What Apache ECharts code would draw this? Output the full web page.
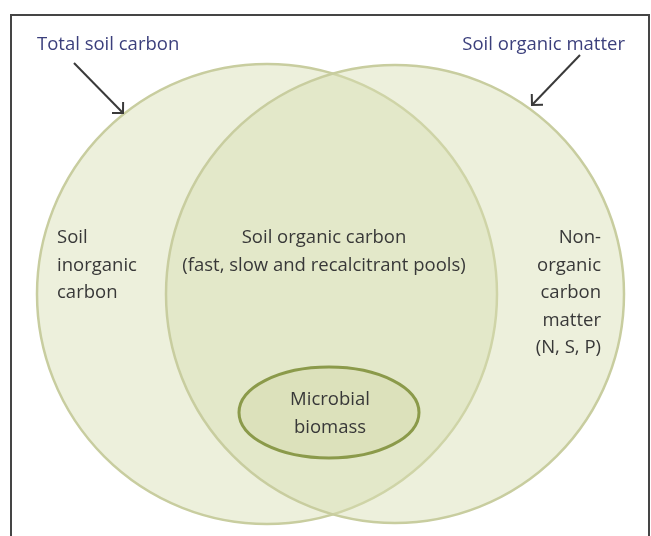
<!DOCTYPE html>
<html>
<head>
<meta charset="utf-8">
<script src="https://cdn.jsdelivr.net/npm/echarts@6/dist/echarts.min.js"></script>
<style>
  html, body { margin: 0; padding: 0; background: #fff; }
  #chart { width: 651px; height: 536px; }
</style>
</head>
<body>
<div id="chart"></div>
<script>
// diagram space: 651 x 536 units, y grows downward
const frame = [[11, 15, 649, 560]];
// [cx, cy, r]
const circleLeft = [[267, 294, 230]];
const circleRight = [[395, 294, 229]];
// [cx, cy, rx, ry]
const microbe = [[329, 412.5, 90, 45.5]];
// [x1, y1, x2, y2]
const arrows = [
    [74, 63, 123, 113],
    [580, 55, 532, 105]
];
// [x, y, text, align]
const titleLabels = [
    [37, 45, 'Total soil carbon', 'left'],
    [625, 45, 'Soil organic matter', 'right']
];
const leftLabels = ['Soil', 'inorganic', 'carbon'];
const centerLabels = ['Soil organic carbon', '(fast, slow and recalcitrant pools)'];
const rightLabels = ['Non-', 'organic', 'carbon', 'matter', '(N, S, P)'];
const microbeLabels = ['Microbial', 'biomass'];
const lineStep = 27.5;

const fontFamily = '"Open Sans", "Noto Sans", sans-serif';
const textColor = '#383838';

// 文本行 -> [x, y, text, align]
const stackLines = (lines, x, y0, align) =>
    lines.map((t, i) => [x, y0 + i * lineStep, t, align]);

const bodyLabels = []
    .concat(stackLines(leftLabels, 57, 238, 'left'))
    .concat(stackLines(centerLabels, 324, 238, 'center'))
    .concat(stackLines(rightLabels, 601, 238, 'right'))
    .concat(stackLines(microbeLabels, 330, 400, 'center'));

const circleItem = (fill, stroke) => function (params, api) {
    const c = api.coord([api.value(0), api.value(1)]);
    const s = api.size([api.value(2), api.value(2)]);
    return {
        type: 'circle',
        shape: { cx: c[0], cy: c[1], r: s[0] },
        style: { fill: fill, stroke: stroke, lineWidth: 2.5 }
    };
};

const textItem = (color) => function (params, api) {
    const c = api.coord([api.value(0), api.value(1)]);
    return {
        type: 'text',
        x: c[0],
        y: c[1],
        style: {
            text: api.value(2),
            fill: color,
            font: '18.5px ' + fontFamily,
            align: api.value(3),
            verticalAlign: 'middle'
        }
    };
};

const chart = echarts.init(document.getElementById('chart'));
chart.setOption({
    animation: false,
    grid: { left: 0, right: 0, top: 0, bottom: 0 },
    xAxis: { type: 'value', min: 0, max: 651, show: false },
    yAxis: { type: 'value', min: 0, max: 536, inverse: true, show: false },
    series: [
        {
            type: 'custom',
            data: frame,
            renderItem: function (params, api) {
                const a = api.coord([api.value(0), api.value(1)]);
                const b = api.coord([api.value(2), api.value(3)]);
                return {
                    type: 'rect',
                    shape: { x: a[0], y: a[1], width: b[0] - a[0], height: b[1] - a[1] },
                    style: { fill: '#fff', stroke: '#454545', lineWidth: 2 }
                };
            }
        },
        {
            type: 'custom',
            data: circleLeft,
            renderItem: circleItem('rgba(216,222,178,0.45)', '#c8cd9f')
        },
        {
            type: 'custom',
            data: circleRight,
            renderItem: circleItem('rgba(216,222,178,0.45)', '#c8cd9f')
        },
        {
            type: 'custom',
            data: microbe,
            renderItem: function (params, api) {
                const c = api.coord([api.value(0), api.value(1)]);
                const s = api.size([api.value(2), api.value(3)]);
                return {
                    type: 'ellipse',
                    shape: { cx: c[0], cy: c[1], rx: s[0], ry: s[1] },
                    style: { fill: 'rgba(205,212,160,0.32)', stroke: '#8b9a4a', lineWidth: 3 }
                };
            }
        },
        {
            type: 'custom',
            data: arrows,
            renderItem: function (params, api) {
                const a = api.coord([api.value(0), api.value(1)]);
                const b = api.coord([api.value(2), api.value(3)]);
                const ang = Math.atan2(b[1] - a[1], b[0] - a[0]);
                const len = 11;
                const p1 = [b[0] - len * Math.cos(ang - Math.PI / 4), b[1] - len * Math.sin(ang - Math.PI / 4)];
                const p2 = [b[0] - len * Math.cos(ang + Math.PI / 4), b[1] - len * Math.sin(ang + Math.PI / 4)];
                const st = { stroke: '#3a3a3a', lineWidth: 2, fill: null };
                return {
                    type: 'group',
                    children: [
                        { type: 'line', shape: { x1: a[0], y1: a[1], x2: b[0], y2: b[1] }, style: st },
                        { type: 'polyline', shape: { points: [p1, b, p2] }, style: st }
                    ]
                };
            }
        },
        {
            type: 'custom',
            data: titleLabels,
            renderItem: textItem('#3b3f7c')
        },
        {
            type: 'custom',
            data: bodyLabels,
            renderItem: textItem(textColor)
        }
    ]
});
</script>
</body>
</html>
